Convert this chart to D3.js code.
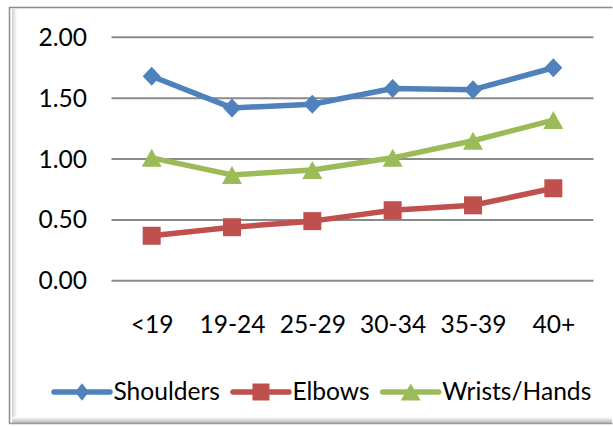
<!DOCTYPE html>
<html><head><meta charset="utf-8">
<script src="https://cdn.jsdelivr.net/npm/d3@7/dist/d3.min.js"></script>
<style>html,body{margin:0;padding:0;background:#fff;}svg{display:block;}</style>
</head><body>
<script>
const categories = ["<19","19-24","25-29","30-34","35-39","40+"];
const shoulders = [1.68, 1.42, 1.45, 1.58, 1.57, 1.75];
const elbows = [0.37, 0.44, 0.49, 0.58, 0.62, 0.76];
const wrists = [1.01, 0.87, 0.91, 1.01, 1.15, 1.32];
const yTicks = [0, 0.5, 1.0, 1.5, 2.0];
const seriesNames = ["Shoulders","Elbows","Wrists/Hands"];
const seriesColors = ["#4F81BD","#C0504D","#9BBB59"];
const seriesShapes = ["diamond","square","triangle"];

const W = 613, H = 426;
const svg = d3.select("body").append("svg").attr("width", W).attr("height", H);
svg.append("rect").attr("width", W).attr("height", H).attr("fill", "#fff");

// frame with shading
const defs = svg.append("defs");
const gb = defs.append("linearGradient").attr("id","gb").attr("x1",0).attr("y1",0).attr("x2",0).attr("y2",1);
gb.append("stop").attr("offset","0%").attr("stop-color","#ffffff");
gb.append("stop").attr("offset","100%").attr("stop-color","#b5b5b5");
const gl = defs.append("linearGradient").attr("id","gl").attr("x1",0).attr("y1",0).attr("x2",1).attr("y2",0);
gl.append("stop").attr("offset","0%").attr("stop-color","#cfcfcf");
gl.append("stop").attr("offset","100%").attr("stop-color","#ffffff");
svg.append("rect").attr("x",10).attr("y",8).attr("width",602).attr("height",415).attr("fill","#fff");
svg.append("rect").attr("x",12).attr("y",9).attr("width",5).attr("height",413).attr("fill","url(#gl)");
svg.append("rect").attr("x",12).attr("y",417).attr("width",600).attr("height",6).attr("fill","url(#gb)");
svg.append("path").attr("d","M9.5,424 V7.5 H612.5").attr("fill","none").attr("stroke","#8c8c8c").attr("stroke-width",1.5);
svg.append("path").attr("d","M9.5,423.5 H612.5").attr("fill","none").attr("stroke","#9a9a9a").attr("stroke-width",1.5);

const fontFamily = "Lato, 'Open Sans', sans-serif";
// fit font size so that "Shoulders" width ≈ 106px (Calibri-like metrics)
const probe = svg.append("text").attr("font-family", fontFamily).attr("font-size", 100).text("Shoulders");
const pw = probe.node().getComputedTextLength();
probe.remove();
const fs = Math.max(18, Math.min(28, 100 * 106.5 / pw));

const x = d3.scalePoint().domain(categories).range([111.5, 593.5]).padding(0.5);
const y = d3.scaleLinear().domain([0, 2]).range([280.8, 37.3]);

// gridlines
const grid = svg.append("g");
grid.selectAll("line").data(yTicks).join("line")
  .attr("x1", 111.5).attr("x2", 593.5)
  .attr("y1", d => y(d)).attr("y2", d => y(d))
  .attr("stroke", "#8a8a8a").attr("stroke-width", 2);

// y axis labels
const yAxis = d3.axisLeft(y).tickValues(yTicks).tickFormat(d3.format(".2f")).tickSize(0).tickPadding(0);
const yg = svg.append("g").attr("transform", "translate(87,0)").call(yAxis);
yg.select(".domain").remove();
yg.selectAll("text").attr("font-family", fontFamily).attr("font-size", fs).attr("fill", "#000")
  .attr("dy", null).attr("dominant-baseline", null).attr("y", 8).attr("x", 0);

// x axis labels
const xAxis = d3.axisBottom(x).tickSize(0).tickPadding(0);
const xg = svg.append("g").attr("transform", "translate(0,333)").call(xAxis);
xg.select(".domain").remove();
xg.selectAll("text").attr("font-family", fontFamily).attr("font-size", fs).attr("fill", "#000")
  .attr("dy", null).attr("y", 0);

function markerPath(shape, w, h) {
  const a = w/2, b = h/2;
  if (shape === "diamond") return `M0,${-b}L${a},0L0,${b}L${-a},0Z`;
  if (shape === "square") return `M${-a},${-b}H${a}V${b}H${-a}Z`;
  return `M0,${-b}L${a},${b}L${-a},${b}Z`;
}
const chartSizes = {diamond:[18,19], square:[18,18], triangle:[20,18]};
const legendSizes = {diamond:[13.5,17.5], square:[17,17], triangle:[20,17]};

const allSeries = [shoulders, elbows, wrists];
const line = d3.line().x((d,i) => x(categories[i])).y(d => y(d));
allSeries.forEach((vals, si) => {
  const g = svg.append("g");
  g.append("path").attr("d", line(vals)).attr("fill","none")
    .attr("stroke", seriesColors[si]).attr("stroke-width", 5.5).attr("stroke-linejoin","round");
  const sz = chartSizes[seriesShapes[si]];
  g.selectAll("path.m").data(vals).join("path").attr("class","m")
    .attr("d", markerPath(seriesShapes[si], sz[0], sz[1]))
    .attr("transform", (d,i) => `translate(${x(categories[i])},${y(d)})`)
    .attr("fill", seriesColors[si]);
});

// legend
const leg = svg.append("g");
let lx = 54;
const ly = 392;
seriesNames.forEach((name, si) => {
  const g = leg.append("g");
  g.append("line").attr("x1", lx).attr("x2", lx + 56).attr("y1", ly).attr("y2", ly)
    .attr("stroke", seriesColors[si]).attr("stroke-width", 5.5).attr("stroke-linecap","round");
  const sz = legendSizes[seriesShapes[si]];
  g.append("path").attr("d", markerPath(seriesShapes[si], sz[0], sz[1]))
    .attr("transform", `translate(${lx + 28},${ly})`).attr("fill", seriesColors[si]);
  const t = g.append("text").attr("x", lx + 59.5).attr("y", 400)
    .attr("font-family", fontFamily).attr("font-size", fs).attr("fill", "#000").text(name);
  lx = lx + 59.5 + t.node().getComputedTextLength() + 13;
});
</script>
</body></html>
